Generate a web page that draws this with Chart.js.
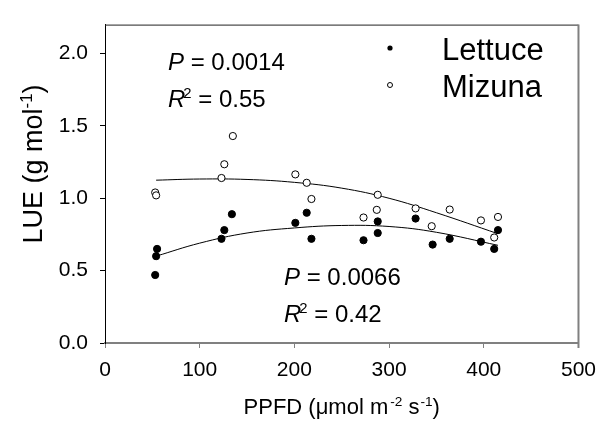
<!DOCTYPE html>
<html>
<head>
<meta charset="utf-8">
<script src="https://cdn.jsdelivr.net/npm/chart.js@4"></script>
<style>
  body { margin: 0; background: #fff; }
  canvas { display: block; }
</style>
</head>
<body>
<canvas id="lue_chart" width="606" height="426"></canvas>
<script>
// values
const lettuceX = [53, 55, 54, 123, 126, 134, 201, 213, 218, 273, 288, 288, 328, 346, 364, 397, 411, 415];
const lettuceY = [0.47, 0.65, 0.60, 0.72, 0.78, 0.89, 0.83, 0.90, 0.72, 0.71, 0.84, 0.76, 0.86, 0.68, 0.72, 0.70, 0.65, 0.78];
const mizunaX = [53, 54, 123, 126, 135, 201, 213, 218, 273, 287, 288, 328, 345, 364, 397, 411, 415];
const mizunaY = [1.04, 1.02, 1.14, 1.235, 1.43, 1.165, 1.107, 0.995, 0.867, 0.92, 1.024, 0.93, 0.807, 0.922, 0.847, 0.729, 0.871];

// fitted curves, read at a few points
const fitX = [54, 100, 150, 200, 250, 300, 350, 415];
const lettuceFit = [0.60, 0.69, 0.76, 0.795, 0.812, 0.805, 0.765, 0.675];
const mizunaFit = [1.125, 1.133, 1.13, 1.11, 1.07, 1.0, 0.9, 0.755];

const xTicks = [0, 100, 200, 300, 400, 500];
const yTicks = [0, 0.5, 1.0, 1.5, 2.0];

const FONT = "'Liberation Sans', Arial, sans-serif";

function pts(xs, ys) {
  return xs.map((x, i) => ({x: x, y: ys[i]}));
}

// draws a run of text pieces, some italic or superscript
function richText(ctx, x, y, parts, size, align) {
  const widths = parts.map(p => {
    ctx.font = (p.it ? "italic " : "") + (p.sup ? size * 0.62 : size) + "px " + FONT;
    return ctx.measureText(p.t).width + (p.dx || 0);
  });
  const total = widths.reduce((a, b) => a + b, 0);
  let cx = align === "center" ? x - total / 2 : x;
  parts.forEach((p, i) => {
    ctx.font = (p.it ? "italic " : "") + (p.sup ? size * 0.62 : size) + "px " + FONT;
    ctx.fillText(p.t, cx + (p.dx || 0), p.sup ? y - size * 0.38 : y);
    cx += widths[i];
  });
}

const decorations = {
  id: "decorations",
  afterDraw(chart) {
    const ctx = chart.ctx;
    const a = chart.chartArea;
    ctx.save();
    // top and right frame
    ctx.strokeStyle = "#222";
    ctx.lineWidth = 1;
    ctx.beginPath();
    ctx.moveTo(a.left, a.top + 0.5);
    ctx.lineTo(a.right, a.top + 0.5);
    ctx.stroke();
    ctx.strokeStyle = "#808080";
    ctx.lineWidth = 2;
    ctx.beginPath();
    ctx.moveTo(a.right, a.top);
    ctx.lineTo(a.right, a.bottom + 5);
    ctx.stroke();

    ctx.fillStyle = "#000";
    ctx.textBaseline = "alphabetic";
    ctx.textAlign = "left";

    // statistics
    richText(ctx, 168, 70, [{t: "P", it: true}, {t: " = 0.0014"}], 24);
    richText(ctx, 168, 107, [{t: "R", it: true}, {t: "2", sup: true, dx: -2}, {t: " = 0.55"}], 24);
    richText(ctx, 284, 285, [{t: "P", it: true}, {t: " = 0.0066"}], 24);
    richText(ctx, 284, 322, [{t: "R", it: true}, {t: "2", sup: true, dx: -2}, {t: " = 0.42"}], 24);

    // legend
    ctx.font = "31px " + FONT;
    ctx.fillText("Lettuce", 442, 60);
    ctx.fillText("Mizuna", 442, 97);
    ctx.beginPath();
    ctx.arc(390, 48, 2.6, 0, Math.PI * 2);
    ctx.fill();
    ctx.beginPath();
    ctx.arc(390, 85, 2.5, 0, Math.PI * 2);
    ctx.fillStyle = "#fff";
    ctx.fill();
    ctx.strokeStyle = "#000";
    ctx.lineWidth = 1;
    ctx.stroke();
    ctx.fillStyle = "#000";

    // axis titles
    richText(ctx, (a.left + a.right) / 2, 414,
      [{t: "PPFD (\u03bcmol m"}, {t: "-2", sup: true, dx: 2}, {t: " s"}, {t: "-1", sup: true, dx: 1}, {t: ")"}], 22, "center");
    ctx.translate(42, 164);
    ctx.rotate(-Math.PI / 2);
    richText(ctx, 0, 0, [{t: "LUE (g mol"}, {t: "-1", sup: true}, {t: ")"}], 27, "center");
    ctx.restore();
  }
};

new Chart("lue_chart", {
  type: "scatter",
  data: {
    datasets: [{
      label: "Lettuce",
      data: pts(lettuceX, lettuceY),
      backgroundColor: "#000",
      borderColor: "#000",
      pointRadius: 3.6,
      order: 1
    }, {
      label: "Mizuna",
      data: pts(mizunaX, mizunaY),
      backgroundColor: "#fff",
      borderColor: "#000",
      borderWidth: 1,
      pointRadius: 3.6,
      order: 1
    }, {
      label: "Lettuce fit",
      data: pts(fitX, lettuceFit),
      showLine: true,
      borderColor: "#000",
      borderWidth: 1,
      pointRadius: 0,
      tension: 0.4,
      order: 2
    }, {
      label: "Mizuna fit",
      data: pts(fitX, mizunaFit),
      showLine: true,
      borderColor: "#000",
      borderWidth: 1,
      pointRadius: 0,
      tension: 0.4,
      order: 2
    }]
  },
  options: {
    responsive: false,
    animation: false,
    layout: {padding: {top: 13, right: 19, left: 0, bottom: 0}},
    plugins: {legend: {display: false}, tooltip: {enabled: false}},
    scales: {
      x: {
        type: "linear",
        min: 0,
        max: 500,
        afterBuildTicks: s => { s.ticks = xTicks.map(v => ({value: v})); },
        afterFit: s => { s.height = 83; },
        grid: {drawOnChartArea: false, drawTicks: true, tickLength: 5, tickColor: "#808080", tickWidth: 1},
        border: {color: "#808080", width: 2},
        ticks: {color: "#000", padding: 10, font: {family: FONT, size: 21}, callback: v => String(v)}
      },
      y: {
        min: 0,
        max: 2.2,
        afterBuildTicks: s => { s.ticks = yTicks.map(v => ({value: v})); },
        afterFit: s => { s.width = 105; },
        grid: {drawOnChartArea: false, drawTicks: true, tickLength: 5, tickColor: "#000", tickWidth: 1},
        border: {color: "#000", width: 1},
        ticks: {color: "#000", padding: 12, font: {family: FONT, size: 21}, callback: v => v.toFixed(1)}
      }
    }
  },
  plugins: [decorations]
});
</script>
</body>
</html>
